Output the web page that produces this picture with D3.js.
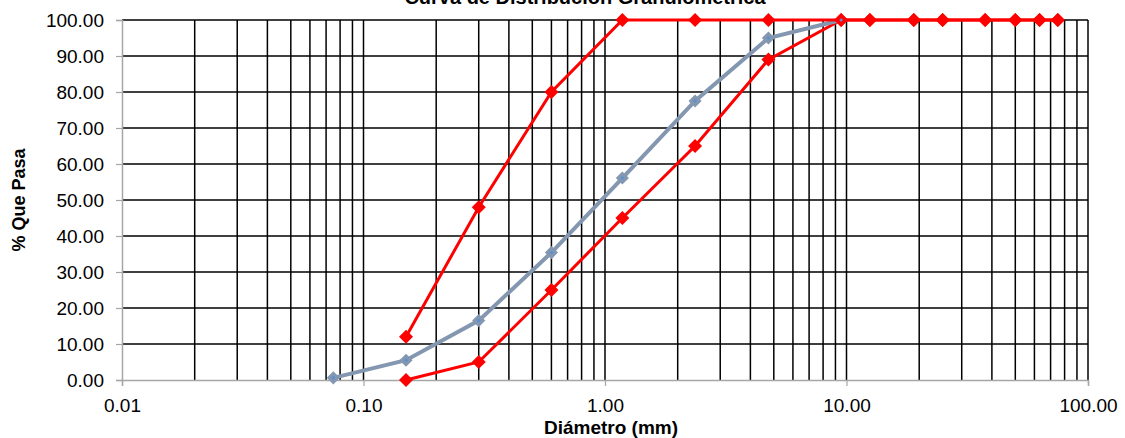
<!DOCTYPE html>
<html>
<head>
<meta charset="utf-8">
<script src="https://cdn.jsdelivr.net/npm/d3@7"></script>
<style>
  body { margin: 0; background: #fff; }
  text { font-family: "Liberation Sans", Arial, sans-serif; }
</style>
</head>
<body>
<svg id="chart" width="1125" height="438"></svg>
<script>
// sieve openings (mm) and % passing
const sieves = [0.075, 0.15, 0.3, 0.6, 1.18, 2.36, 4.75, 9.5, 12.5, 19, 25, 37.5, 50, 63, 75];
const muestra = [0.6, 5.5, 16.5, 35.4, 56.1, 77.5, 95.0, 100];          // sieves[0..7]
const limSup = [12, 48, 80, 100, 100, 100, 100, 100, 100, 100, 100, 100, 100, 100]; // sieves[1..]
const limInf = [0, 5, 25, 45, 65, 89, 100, 100, 100, 100, 100, 100, 100, 100];      // sieves[1..]
const yTicks = [0, 10, 20, 30, 40, 50, 60, 70, 80, 90, 100];
const xTicks = [0.01, 0.1, 1, 10, 100];

const svg = d3.select('#chart');
const pLeft = 122, pRight = 1088, pTop = 20, pBottom = 380;

const x = d3.scaleLog().domain([0.01, 100]).range([pLeft, pRight]);
const y = d3.scaleLinear().domain([0, 100]).range([pBottom, pTop]);

// vertical grid (every 1..9 of each decade)
const minor = [];
for (let d = 0.01; d < 100; d *= 10) {
  for (let k = 2; k <= 10; k++) minor.push(+(d * k).toPrecision(3));
}
svg.append('g').selectAll('line').data(minor).join('line')
  .attr('x1', d => x(d)).attr('x2', d => x(d))
  .attr('y1', pTop).attr('y2', pBottom)
  .attr('stroke', '#000').attr('stroke-width', 1.5);

// horizontal grid
svg.append('g').selectAll('line').data(yTicks.filter(v => v > 0)).join('line')
  .attr('x1', pLeft).attr('x2', pRight)
  .attr('y1', d => y(d)).attr('y2', d => y(d))
  .attr('stroke', '#000').attr('stroke-width', 1.5);

// axes
const yAxis = svg.append('g').attr('transform', `translate(${pLeft},0)`)
  .call(d3.axisLeft(y).tickValues(yTicks).tickSize(6).tickPadding(12).tickFormat(d3.format('.2f')));
const xAxis = svg.append('g').attr('transform', `translate(0,${pBottom})`)
  .call(d3.axisBottom(x).tickValues(xTicks).tickSize(6).tickPadding(13).tickFormat(d3.format('.2f')));
[yAxis, xAxis].forEach(a => {
  a.select('.domain').attr('stroke', '#a6a6a6').attr('stroke-width', 1.5);
  a.selectAll('.tick line').attr('stroke', '#a6a6a6').attr('stroke-width', 1.2);
  a.selectAll('.tick text').attr('fill', '#000').style('font-size', '19px')
    .style('font-family', '"Liberation Sans", Arial, sans-serif');
});

// series
const line = d3.line().x(d => x(d[0])).y(d => y(d[1]));
const diamond = d3.symbol().type(d3.symbolDiamond2);

function series(xs, ys, color, size, width) {
  const pts = ys.map((v, i) => [xs[i], v]);
  const g = svg.append('g');
  g.append('path').datum(pts).attr('d', line)
    .attr('fill', 'none').attr('stroke', color).attr('stroke-width', width);
  return g.selectAll('path.m').data(pts).join('path').attr('class', 'm')
    .attr('transform', d => `translate(${x(d[0])},${y(d[1])})`)
    .attr('d', diamond.size(size)).attr('fill', color);
}

series(sieves.slice(1), limInf, '#ff0000', 125, 3);
series(sieves, muestra, '#8497b0', 110, 4);
series(sieves.slice(1), limSup, '#ff0000', 125, 3);
// small blue centre of sample markers
svg.append('g').selectAll('circle').data(muestra).join('circle')
  .attr('cx', (d, i) => x(sieves[i])).attr('cy', d => y(d)).attr('r', 1.6)
  .attr('fill', '#5b8fd0');

// titles
svg.append('text').attr('x', 585).attr('y', 4).attr('text-anchor', 'middle')
  .style('font-size', '20px').style('font-weight', 'bold')
  .text('Curva de Distribución Granulométrica');
svg.append('text').attr('x', 611).attr('y', 434).attr('text-anchor', 'middle')
  .style('font-size', '19px').style('font-weight', 'bold')
  .text('Diámetro (mm)');
svg.append('text').attr('transform', 'translate(25,200) rotate(-90)').attr('text-anchor', 'middle')
  .style('font-size', '18px').style('font-weight', 'bold')
  .text('% Que Pasa');
</script>
</body>
</html>
